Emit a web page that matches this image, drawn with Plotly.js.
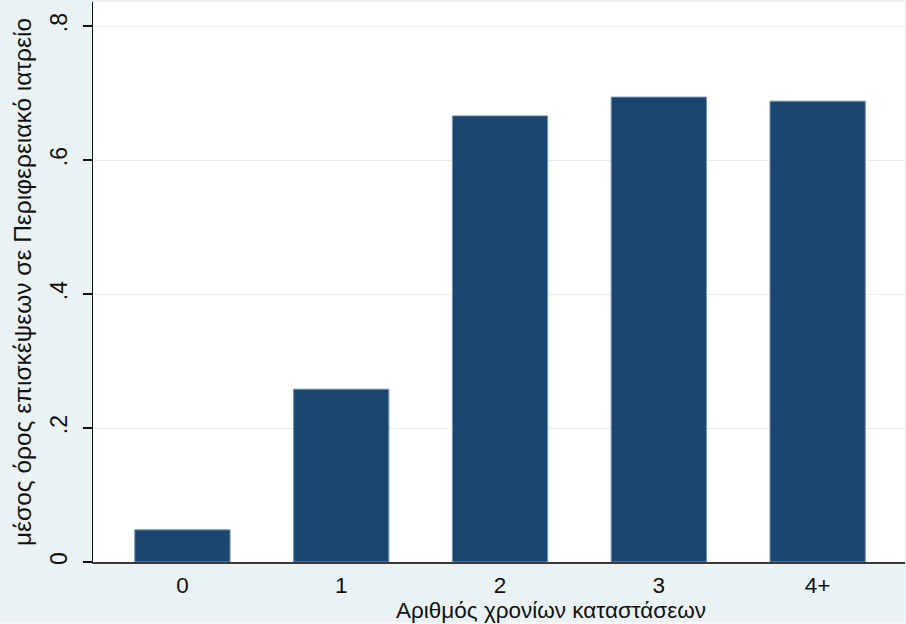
<!DOCTYPE html>
<html><head><meta charset="utf-8">
<script src="https://cdn.plot.ly/plotly-3.0.1.min.js"></script>
<style>html,body{margin:0;padding:0;background:#eaf2f3;}#chart{width:906px;height:624px;}</style>
</head><body><div id="chart"></div>
<script>
const categories = ["0", "1", "2", "3", "4+"];
const meanVisits = [0.048, 0.258, 0.666, 0.694, 0.688];
const yTickVals = [0, 0.2, 0.4, 0.6, 0.8];
const yTickText = ["0", ".2", ".4", ".6", ".8"];
const xTitle = "Αριθμός χρονίων καταστάσεων";
const yTitle = "μέσος όρος επισκέψεων σε Περιφερειακό ιατρείο";

const font = "Liberation Sans, Arial, sans-serif";
const trace = {
  type: "bar",
  x: categories.map((c, i) => i),
  y: meanVisits,
  width: 0.6,
  marker: {color: "#1a476f", line: {color: "#7393b3", width: 1}},
  hoverinfo: "x+y"
};
const layout = {
  width: 906, height: 624,
  paper_bgcolor: "#eaf2f3", plot_bgcolor: "#ffffff",
  margin: {l: 93, r: 1, t: 2, b: 62},
  showlegend: false,
  font: {family: font, size: 22, color: "#111"},
  xaxis: {
    range: [-0.563, 4.55],
    tickmode: "array", tickvals: categories.map((c, i) => i), ticktext: categories,
    showgrid: false, zeroline: false,
    showline: true, linecolor: "#3a3a3a", linewidth: 1.5,
    ticks: "", ticklabelstandoff: 2,
    tickfont: {family: font, size: 22.5, color: "#111"}
  },
  yaxis: {
    range: [0, 0.836],
    tickmode: "array", tickvals: yTickVals, ticktext: yTickText,
    tickangle: -90,
    showgrid: true, gridcolor: "#e6eef0", gridwidth: 1,
    zeroline: false,
    showline: true, linecolor: "#111", linewidth: 1.5,
    ticks: "outside", ticklen: 9, tickcolor: "#111", tickwidth: 1.5,
    ticklabelstandoff: 6,
    tickfont: {family: font, size: 23, color: "#111"},
    title: {text: yTitle, font: {family: font, size: 24.5, color: "#111"}, standoff: 7}
  },
  annotations: [{
    text: xTitle, xref: "paper", yref: "paper",
    x: 0.564, y: -0.086, xanchor: "center", yanchor: "middle",
    showarrow: false, font: {family: font, size: 22.5, color: "#111"}
  }],
  shapes: [{
    type: "rect", xref: "paper", yref: "paper",
    x0: -0.2, x1: 1.01, y0: -0.1111, y1: -0.1071,
    fillcolor: "#f6f9fa", line: {width: 0}, layer: "below"
  }],
  bargap: 0.4
};
Plotly.newPlot("chart", [trace], layout, {displayModeBar: false, staticPlot: true});
</script></body></html>
